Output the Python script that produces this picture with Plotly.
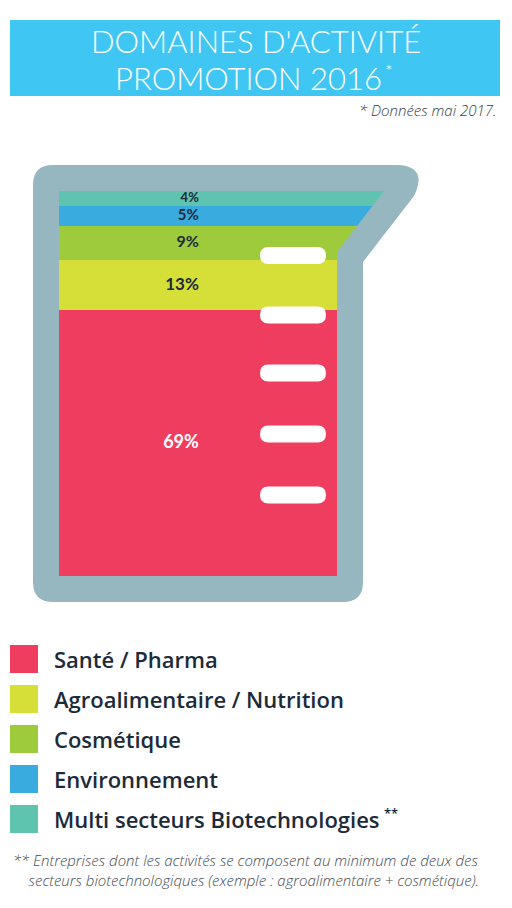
import plotly.graph_objects as go

# ---- data (bottom to top of the beaker) ----
categories = ["Santé / Pharma", "Agroalimentaire / Nutrition", "Cosmétique",
              "Environnement", "Multi secteurs Biotechnologies"]
values = [69, 13, 9, 5, 4]
labels = ["69%", "13%", "9%", "5%", "4%"]
colors = ["#EF3D60", "#D5DF37", "#9DCB3C", "#3AABDF", "#5EC4B0"]
label_colors = ["#FFFFFF", "#1B2B3A", "#1B2B3A", "#1B2B3A", "#1B2B3A"]
label_sizes = [18, 17, 16, 15, 13]

W, H = 512, 908
GRAY = "#96B6C0"
DARK = "#1B2B3A"


def px(x):
    return x / W


def py(y):
    return 1 - y / H


def P(x, y):
    return f"{px(x):.5f},{py(y):.5f}"


def rounded_rect(x0, y0, x1, y1, r):
    return (f"M{P(x0 + r, y0)} L{P(x1 - r, y0)} Q{P(x1, y0)} {P(x1, y0 + r)} "
            f"L{P(x1, y1 - r)} Q{P(x1, y1)} {P(x1 - r, y1)} L{P(x0 + r, y1)} "
            f"Q{P(x0, y1)} {P(x0, y1 - r)} L{P(x0, y0 + r)} Q{P(x0, y0)} {P(x0 + r, y0)} Z")


shapes = []
# title band
shapes.append(dict(type="rect", xref="paper", yref="paper", layer="below",
                   x0=px(10), x1=px(500), y0=py(96), y1=py(20),
                   fillcolor="#3FC6F2", line=dict(width=0)))
# beaker outer body
beaker = (f"M{P(53, 165)} L{P(399, 165)} Q{P(428, 167)} {P(414, 196)} "
          f"L{P(363, 262)} L{P(363, 582)} Q{P(363, 602)} {P(343, 602)} "
          f"L{P(53, 602)} Q{P(33, 602)} {P(33, 582)} L{P(33, 185)} Q{P(33, 165)} {P(53, 165)} Z")
shapes.append(dict(type="path", xref="paper", yref="paper", layer="below",
                   path=beaker, fillcolor=GRAY, line=dict(width=0)))
# right wall (over the bars)
wall = f"M{P(337, 577)} L{P(337, 252)} L{P(384, 191)} L{P(388, 191)} L{P(388, 577)} Z"
shapes.append(dict(type="path", xref="paper", yref="paper", layer="above",
                   path=wall, fillcolor=GRAY, line=dict(width=0)))
outside = f"M{P(363, 578)} L{P(363, 262)} L{P(388, 229.6)} L{P(390, 229.6)} L{P(390, 578)} Z"
shapes.append(dict(type="path", xref="paper", yref="paper", layer="above",
                   path=outside, fillcolor="white", line=dict(width=0)))
# graduation marks
for yc in [255.5, 315, 373, 434, 495]:
    shapes.append(dict(type="path", xref="paper", yref="paper", layer="above",
                       path=rounded_rect(260, yc - 8.5, 326, yc + 8.5, 8.5),
                       fillcolor="white", line=dict(width=0)))

# legend squares
for i, c in enumerate(colors):
    y0 = 645 + 40 * i
    shapes.append(dict(type="rect", xref="paper", yref="paper", layer="below",
                       x0=px(10), x1=px(38), y0=py(y0 + 28), y1=py(y0),
                       fillcolor=c, line=dict(width=0)))

fig = go.Figure()
for cat, v, c in zip(categories, values, colors):
    fig.add_trace(go.Bar(x=[0.5], y=[v], width=[1], name=cat,
                         marker=dict(color=c, line=dict(width=0)),
                         hoverinfo="skip", showlegend=False))

mids = []
acc = 0
for v in values:
    mids.append(acc + v / 2)
    acc += v
fig.add_trace(go.Scatter(x=[0.425] * len(values), y=mids, mode="text", text=labels,
                         textposition="middle left",
                         textfont=dict(family="Lato", size=label_sizes, color=label_colors,
                                       weight=700),
                         hoverinfo="skip", showlegend=False))

TITLE_FONT = dict(family="Lato", size=31, color="white", weight=300)
FOOT_FONT = dict(family="Open Sans", size=15, color="#3F4A55", weight=300, style="italic")
NB = "\u00a0"
annotations = [
    dict(text="DOMAINES D'ACTIVITÉ", x=px(256), y=py(41), xref="paper", yref="paper",
         showarrow=False, xanchor="center", yanchor="middle", font=TITLE_FONT),
    dict(text="PROMOTION 2016", x=px(248), y=py(78.5), xref="paper", yref="paper",
         showarrow=False, xanchor="center", yanchor="middle", font=TITLE_FONT),
    dict(text="*", x=px(383), y=py(71.5), xref="paper", yref="paper",
         showarrow=False, xanchor="left", yanchor="middle",
         font=dict(family="Lato", size=18, color="white", weight=300)),
    dict(text="* Données mai 2017.", x=px(498), y=py(110), xref="paper", yref="paper",
         showarrow=False, xanchor="right", yanchor="middle",
         font=dict(family="Open Sans", size=15, color="#333D45", weight=300, style="italic")),
    dict(text="** Entreprises dont les activités se composent au minimum de deux des<br>"
              + NB * 4 + "secteurs biotechnologiques (exemple : agroalimentaire + cosmétique).",
         x=px(11), y=py(870), xref="paper", yref="paper", showarrow=False,
         xanchor="left", yanchor="middle", align="left", font=FOOT_FONT),
]
for i, cat in enumerate(categories):
    annotations.append(dict(text=cat, x=px(52), y=py(659 + 40 * i), xref="paper", yref="paper",
                            showarrow=False, xanchor="left", yanchor="middle",
                            font=dict(family="Open Sans", size=22, color=DARK, weight=600)))
annotations.append(dict(text="**", x=px(382), y=py(813), xref="paper", yref="paper",
                        showarrow=False, xanchor="left", yanchor="middle",
                        font=dict(family="Open Sans", size=13, color=DARK, weight=600)))

fig.update_layout(
    width=W, height=H, margin=dict(l=0, r=0, t=0, b=0),
    paper_bgcolor="white", plot_bgcolor="rgba(0,0,0,0)",
    barmode="stack", bargap=0,
    xaxis=dict(domain=[59 / W, 388 / W], range=[0, 1], visible=False, fixedrange=True),
    yaxis=dict(domain=[py(576), py(191)], range=[0, 100], visible=False, fixedrange=True),
    shapes=shapes, annotations=annotations, showlegend=False,
)

fig.write_html("out.html")
